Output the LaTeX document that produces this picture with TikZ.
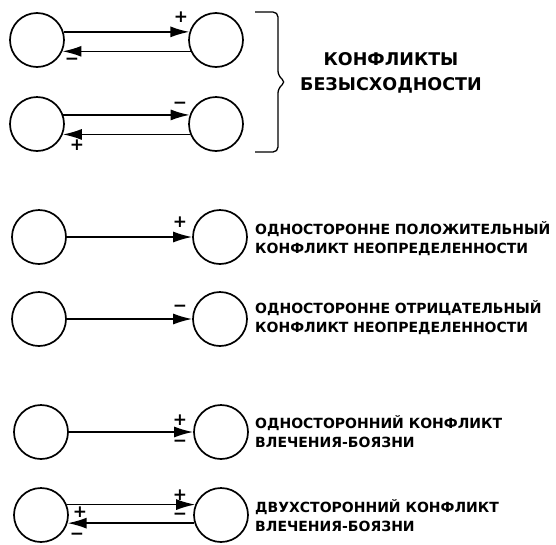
\documentclass[tikz,border=0pt]{standalone}
\usepackage{fontspec}
\setmainfont{DejaVu Sans}
\newfontfamily\pgfont{Liberation Serif}
\usetikzlibrary{arrows.meta}
\tikzset{
  circ/.style={circle,draw,line width=1.7pt,minimum size=54pt,inner sep=0pt},
  conn/.style={line width=1.6pt,-{Latex[length=19pt,width=11pt]}},
  sign/.style={font=\bfseries\fontsize{17}{17}\selectfont,inner sep=0pt},
  lbl/.style={font=\bfseries\fontsize{14}{19}\selectfont,align=left,anchor=west,inner sep=0pt},
  head/.style={font=\bfseries\fontsize{17.5}{25}\selectfont,align=center,inner sep=0pt},
}
\begin{document}
\begin{tikzpicture}[x=1pt,y=-1pt]
\useasboundingbox (0,0) rectangle (556,544);
\node[font=\pgfont\itshape\fontsize{20}{20}\selectfont,anchor=base west,inner sep=0pt] (pg) at (2,-3) {393};
% row 1
\node[circ] (a1) at (37,40) {};
\node[circ] (b1) at (216,40) {};
\draw[conn] (a1.17) -- (b1.163);
\draw[conn] (b1.-156) -- (a1.-24);
\node[sign] (p1) at (181,17) {+};
\node[sign] (m1) at (72,61) {−};
% row 2
\node[circ] (a2) at (37,124) {};
\node[circ] (b2) at (216,124) {};
\draw[conn] (a2.19) -- (b2.161);
\draw[conn] (b2.-158) -- (a2.-22);
\node[sign] (m2) at (180,105) {−};
\node[sign] (p2) at (77,145) {+};
% brace
\draw[line width=1.3pt,rounded corners=5pt] (255,12) -- (278,12) -- (278,76) -- (286,82) -- (278,88) -- (278,152) -- (255,152);
\node[head] (h) at (391,73) {КОНФЛИКТЫ\\БЕЗЫСХОДНОСТИ};
% row 3
\node[circ] (a3) at (39,237) {};
\node[circ] (b3) at (220,237) {};
\draw[conn] (a3) -- (b3);
\node[sign] (p3) at (180,222) {+};
\node[lbl] (t3) at (255,239) {ОДНОСТОРОННЕ ПОЛОЖИТЕЛЬНЫЙ\\КОНФЛИКТ НЕОПРЕДЕЛЕННОСТИ};
% row 4
\node[circ] (a4) at (39,319) {};
\node[circ] (b4) at (220,319) {};
\draw[conn] (a4) -- (b4);
\node[sign] (m4) at (180,308) {−};
\node[lbl] (t4) at (255,318) {ОДНОСТОРОННЕ ОТРИЦАТЕЛЬНЫЙ\\КОНФЛИКТ НЕОПРЕДЕЛЕННОСТИ};
% row 5
\node[circ] (a5) at (41,432) {};
\node[circ] (b5) at (221,432) {};
\draw[conn] (a5) -- (b5);
\node[sign] (p5) at (180,420) {+};
\node[sign] (m5) at (180,443) {−};
\node[lbl] (t5) at (255,432) {ОДНОСТОРОННИЙ КОНФЛИКТ\\ВЛЕЧЕНИЯ-БОЯЗНИ};
% row 6
\node[circ] (a6) at (41,515) {};
\node[circ] (b6) at (221,515) {};
\draw[conn] (a6.22) -- (b6.158);
\draw[conn] (b6.-163) -- (a6.-17);
\node[sign] (p6) at (180,495) {+};
\node[sign] (m6) at (180,516) {−};
\node[sign] (p6b) at (80,512) {+};
\node[sign] (m6b) at (77,536) {−};
\node[lbl] (t6) at (255,516) {ДВУХСТОРОННИЙ КОНФЛИКТ\\ВЛЕЧЕНИЯ-БОЯЗНИ};
\end{tikzpicture}
\end{document}
